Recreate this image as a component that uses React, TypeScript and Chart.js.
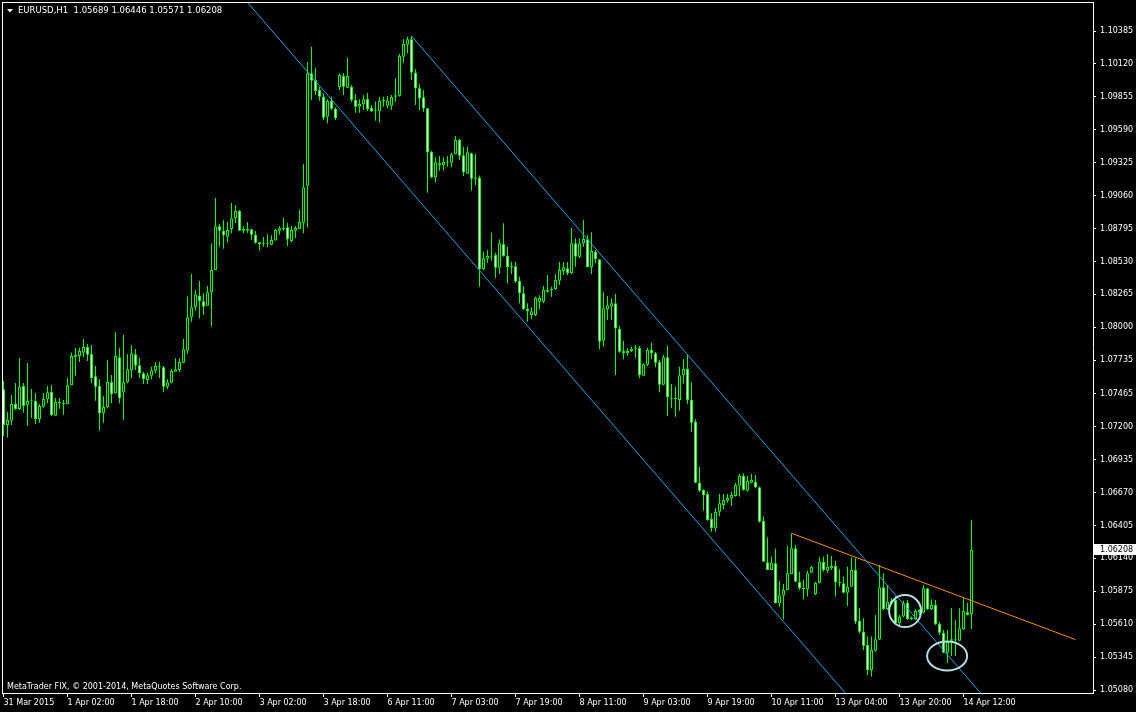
import React, { useEffect, useRef } from 'react';
import { Chart, registerables } from 'chart.js';

Chart.register(...registerables);

const symbolTitle = 'EURUSD,H1  1.05689 1.06446 1.05571 1.06208';
const copyrightText = 'MetaTrader FIX, \u00A9 2001-2014, MetaQuotes Software Corp.';

// Hourly candles, bar 0 = 31 Mar 2015 10:00 ... bar 242 = 14 Apr 2015 14:00
const opens = [
  1.07501, 1.07214, 1.07248, 1.07383, 1.07343, 1.07528, 1.07377, 1.07404, 1.07407, 1.07262,
  1.07361, 1.07421, 1.07479, 1.07289, 1.07391, 1.07393, 1.07380, 1.07533, 1.07764, 1.07769,
  1.07795, 1.07842, 1.07785, 1.07607, 1.07528, 1.07308, 1.07356, 1.07560, 1.07469, 1.07759,
  1.07478, 1.07558, 1.07656, 1.07783, 1.07694, 1.07630, 1.07576, 1.07611, 1.07651, 1.07686,
  1.07678, 1.07522, 1.07554, 1.07643, 1.07656, 1.07715, 1.07811, 1.08081, 1.08161, 1.08254,
  1.08210, 1.08174, 1.08282, 1.08461, 1.08813, 1.08778, 1.08730, 1.08792, 1.08878, 1.08936,
  1.08792, 1.08778, 1.08789, 1.08746, 1.08684, 1.08669, 1.08669, 1.08665, 1.08698, 1.08778,
  1.08792, 1.08805, 1.08695, 1.08778, 1.08792, 1.08842, 1.09140, 1.10045, 1.09991, 1.09911,
  1.09857, 1.09696, 1.09822, 1.09760, 1.09932, 1.10023, 1.09929, 1.09937, 1.09830, 1.09776,
  1.09796, 1.09838, 1.09766, 1.09742, 1.09739, 1.09822, 1.09784, 1.09784, 1.09857, 1.09865,
  1.10179, 1.10275, 1.10319, 1.10050, 1.09924, 1.09852, 1.09763, 1.09412, 1.09207, 1.09320,
  1.09304, 1.09325, 1.09325, 1.09393, 1.09508, 1.09385, 1.09237, 1.09401, 1.09207, 1.09207,
  1.08470, 1.08553, 1.08569, 1.08582, 1.08480, 1.08671, 1.08574, 1.08494, 1.08491, 1.08373,
  1.08274, 1.08150, 1.08099, 1.08099, 1.08206, 1.08206, 1.08302, 1.08300, 1.08308, 1.08375,
  1.08454, 1.08475, 1.08435, 1.08677, 1.08569, 1.08677, 1.08709, 1.08483, 1.08609, 1.08548,
  1.07891, 1.08145, 1.08166, 1.08193, 1.07986, 1.07809, 1.07791, 1.07809, 1.07828, 1.07834,
  1.07611, 1.07699, 1.07817, 1.07791, 1.07721, 1.07538, 1.07759, 1.07431, 1.07423, 1.07415,
  1.07614, 1.07664, 1.07415, 1.07240, 1.06749, 1.06691, 1.06658, 1.06457, 1.06382, 1.06516,
  1.06570, 1.06604, 1.06621, 1.06642, 1.06725, 1.06806, 1.06685, 1.06749, 1.06757, 1.06713,
  1.06443, 1.06109, 1.06046, 1.06100, 1.05778, 1.05840, 1.05883, 1.06014, 1.06221, 1.05952,
  1.05904, 1.05891, 1.06025, 1.05851, 1.05944, 1.06113, 1.06041, 1.06060, 1.06079, 1.05950,
  1.05939, 1.05864, 1.05912, 1.06046, 1.05638, 1.05550, 1.05443, 1.05242, 1.05397, 1.05489,
  1.05907, 1.05730, 1.05778, 1.05805, 1.05617, 1.05671, 1.05783, 1.05664, 1.05652, 1.05708,
  1.05703, 1.05899, 1.05730, 1.05765, 1.05612, 1.05542, 1.05381, 1.05477, 1.05481, 1.05477,
  1.05569, 1.05706, 1.05689,
];
const highs = [
  1.07568, 1.07318, 1.07455, 1.07552, 1.07753, 1.07552, 1.07713, 1.07503, 1.07471, 1.07383,
  1.07471, 1.07528, 1.07536, 1.07431, 1.07431, 1.07415, 1.07592, 1.07795, 1.07834, 1.07836,
  1.07906, 1.07866, 1.07858, 1.07689, 1.07582, 1.07447, 1.07737, 1.07616, 1.07962, 1.07834,
  1.07938, 1.07785, 1.07858, 1.07826, 1.07753, 1.07640, 1.07635, 1.07683, 1.07721, 1.07723,
  1.07689, 1.07582, 1.07662, 1.07751, 1.07751, 1.07906, 1.08247, 1.08429, 1.08303, 1.08373,
  1.08274, 1.08333, 1.08676, 1.09041, 1.08832, 1.08864, 1.08848, 1.09001, 1.08985, 1.08944,
  1.08813, 1.08848, 1.08794, 1.08775, 1.08687, 1.08727, 1.08751, 1.08741, 1.08792, 1.08816,
  1.08880, 1.08842, 1.08816, 1.08816, 1.08944, 1.09315, 1.10136, 1.10259, 1.10090, 1.09937,
  1.09884, 1.09836, 1.09857, 1.09771, 1.10045, 1.10045, 1.10168, 1.09951, 1.09878, 1.09836,
  1.09868, 1.09889, 1.09790, 1.09816, 1.09857, 1.09857, 1.09862, 1.09870, 1.10005, 1.10200,
  1.10319, 1.10340, 1.10348, 1.10077, 1.09959, 1.09911, 1.09766, 1.09419, 1.09369, 1.09379,
  1.09369, 1.09379, 1.09406, 1.09540, 1.09519, 1.09454, 1.09454, 1.09406, 1.09395, 1.09223,
  1.08609, 1.08623, 1.08762, 1.08601, 1.08709, 1.08837, 1.08649, 1.08528, 1.08528, 1.08408,
  1.08333, 1.08193, 1.08161, 1.08247, 1.08258, 1.08333, 1.08421, 1.08327, 1.08429, 1.08526,
  1.08526, 1.08526, 1.08800, 1.08717, 1.08717, 1.08864, 1.08743, 1.08765, 1.08623, 1.08548,
  1.08287, 1.08253, 1.08234, 1.08268, 1.08013, 1.07890, 1.07832, 1.07844, 1.07858, 1.07850,
  1.07710, 1.07836, 1.07876, 1.07801, 1.07737, 1.07777, 1.07850, 1.07544, 1.07522, 1.07683,
  1.07743, 1.07777, 1.07558, 1.07260, 1.06878, 1.06696, 1.06677, 1.06503, 1.06543, 1.06658,
  1.06658, 1.06658, 1.06677, 1.06749, 1.06819, 1.06825, 1.06803, 1.06819, 1.06811, 1.06717,
  1.06476, 1.06310, 1.06154, 1.06218, 1.05958, 1.05934, 1.06242, 1.06342, 1.06248, 1.06033,
  1.05966, 1.06041, 1.06079, 1.05952, 1.06149, 1.06154, 1.06175, 1.06159, 1.06121, 1.06052,
  1.05993, 1.06073, 1.06149, 1.06141, 1.05738, 1.05658, 1.05510, 1.05510, 1.05684, 1.06087,
  1.06020, 1.05926, 1.05819, 1.05837, 1.05684, 1.05799, 1.05805, 1.05671, 1.05730, 1.05730,
  1.05926, 1.05899, 1.05811, 1.05805, 1.05630, 1.05563, 1.05563, 1.05738, 1.05644, 1.05738,
  1.05819, 1.05783, 1.06446,
];
const lows = [
  1.07125, 1.07112, 1.07214, 1.07334, 1.07334, 1.07313, 1.07206, 1.07270, 1.07222, 1.07232,
  1.07353, 1.07388, 1.07286, 1.07289, 1.07345, 1.07297, 1.07380, 1.07533, 1.07611, 1.07721,
  1.07762, 1.07729, 1.07549, 1.07409, 1.07168, 1.07232, 1.07348, 1.07388, 1.07469, 1.07388,
  1.07254, 1.07549, 1.07590, 1.07656, 1.07590, 1.07544, 1.07544, 1.07582, 1.07630, 1.07592,
  1.07478, 1.07503, 1.07549, 1.07643, 1.07643, 1.07710, 1.07785, 1.08045, 1.08134, 1.08070,
  1.08099, 1.08174, 1.08005, 1.08461, 1.08649, 1.08633, 1.08681, 1.08757, 1.08840, 1.08778,
  1.08757, 1.08762, 1.08703, 1.08673, 1.08617, 1.08649, 1.08644, 1.08661, 1.08698, 1.08746,
  1.08778, 1.08655, 1.08687, 1.08719, 1.08792, 1.08757, 1.08805, 1.09830, 1.09870, 1.09824,
  1.09669, 1.09642, 1.09749, 1.09669, 1.09911, 1.09870, 1.09924, 1.09816, 1.09728, 1.09728,
  1.09749, 1.09742, 1.09733, 1.09663, 1.09647, 1.09776, 1.09763, 1.09749, 1.09816, 1.09857,
  1.10130, 1.10206, 1.09991, 1.09790, 1.09749, 1.09735, 1.09084, 1.09201, 1.09165, 1.09261,
  1.09261, 1.09293, 1.09288, 1.09393, 1.09347, 1.09218, 1.09237, 1.09100, 1.09146, 1.08327,
  1.08461, 1.08520, 1.08536, 1.08395, 1.08431, 1.08569, 1.08354, 1.08429, 1.08359, 1.08193,
  1.08140, 1.08045, 1.08065, 1.08092, 1.08145, 1.08193, 1.08279, 1.08247, 1.08300, 1.08341,
  1.08421, 1.08421, 1.08429, 1.08488, 1.08556, 1.08649, 1.08483, 1.08429, 1.08516, 1.07823,
  1.07844, 1.08059, 1.08059, 1.07616, 1.07795, 1.07743, 1.07769, 1.07801, 1.07756, 1.07590,
  1.07611, 1.07689, 1.07743, 1.07678, 1.07478, 1.07533, 1.07286, 1.07348, 1.07281, 1.07329,
  1.07549, 1.07383, 1.07160, 1.06744, 1.06677, 1.06524, 1.06443, 1.06355, 1.06355, 1.06481,
  1.06535, 1.06588, 1.06564, 1.06637, 1.06637, 1.06685, 1.06677, 1.06744, 1.06704, 1.06428,
  1.06113, 1.06046, 1.06046, 1.05778, 1.05751, 1.05650, 1.05883, 1.06014, 1.05952, 1.05886,
  1.05811, 1.05832, 1.06020, 1.05845, 1.05939, 1.06033, 1.06025, 1.06046, 1.05832, 1.05912,
  1.05859, 1.05757, 1.05912, 1.05612, 1.05537, 1.05403, 1.05201, 1.05188, 1.05389, 1.05483,
  1.05725, 1.05725, 1.05765, 1.05612, 1.05604, 1.05666, 1.05644, 1.05644, 1.05644, 1.05684,
  1.05698, 1.05725, 1.05725, 1.05604, 1.05523, 1.05376, 1.05300, 1.05354, 1.05354, 1.05477,
  1.05563, 1.05679, 1.05571,
];
const closes = [
  1.07214, 1.07254, 1.07383, 1.07343, 1.07520, 1.07367, 1.07407, 1.07407, 1.07262, 1.07367,
  1.07423, 1.07477, 1.07294, 1.07399, 1.07399, 1.07383, 1.07533, 1.07769, 1.07777, 1.07809,
  1.07842, 1.07780, 1.07592, 1.07522, 1.07308, 1.07359, 1.07560, 1.07461, 1.07769, 1.07429,
  1.07558, 1.07662, 1.07791, 1.07691, 1.07630, 1.07582, 1.07614, 1.07654, 1.07689, 1.07678,
  1.07522, 1.07558, 1.07648, 1.07662, 1.07721, 1.07823, 1.08081, 1.08161, 1.08266, 1.08210,
  1.08166, 1.08282, 1.08461, 1.08813, 1.08778, 1.08741, 1.08784, 1.08878, 1.08936, 1.08778,
  1.08778, 1.08792, 1.08746, 1.08681, 1.08669, 1.08677, 1.08677, 1.08703, 1.08784, 1.08797,
  1.08797, 1.08709, 1.08784, 1.08800, 1.08848, 1.09127, 1.10045, 1.09985, 1.09902, 1.09857,
  1.09688, 1.09822, 1.09760, 1.09683, 1.10031, 1.09937, 1.10023, 1.09830, 1.09776, 1.09798,
  1.09836, 1.09758, 1.09739, 1.09739, 1.09822, 1.09830, 1.09824, 1.09857, 1.09868, 1.10184,
  1.10281, 1.10319, 1.10050, 1.09924, 1.09843, 1.09762, 1.09409, 1.09207, 1.09329, 1.09304,
  1.09331, 1.09329, 1.09393, 1.09508, 1.09382, 1.09248, 1.09409, 1.09197, 1.09197, 1.08467,
  1.08556, 1.08574, 1.08574, 1.08480, 1.08677, 1.08574, 1.08483, 1.08483, 1.08367, 1.08274,
  1.08145, 1.08129, 1.08129, 1.08239, 1.08236, 1.08302, 1.08287, 1.08308, 1.08381, 1.08461,
  1.08483, 1.08435, 1.08677, 1.08569, 1.08677, 1.08711, 1.08483, 1.08614, 1.08548, 1.07884,
  1.08153, 1.08177, 1.08193, 1.07993, 1.07803, 1.07791, 1.07809, 1.07828, 1.07834, 1.07616,
  1.07702, 1.07817, 1.07791, 1.07715, 1.07538, 1.07759, 1.07437, 1.07425, 1.07429, 1.07614,
  1.07664, 1.07415, 1.07232, 1.06749, 1.06685, 1.06650, 1.06449, 1.06382, 1.06516, 1.06583,
  1.06610, 1.06626, 1.06650, 1.06731, 1.06806, 1.06691, 1.06765, 1.06771, 1.06713, 1.06435,
  1.06113, 1.06046, 1.06105, 1.05778, 1.05843, 1.05886, 1.06020, 1.06221, 1.05952, 1.05899,
  1.05891, 1.06020, 1.06073, 1.05944, 1.06113, 1.06046, 1.06073, 1.06079, 1.05948, 1.05939,
  1.05864, 1.05912, 1.06046, 1.05630, 1.05550, 1.05435, 1.05242, 1.05403, 1.05489, 1.05907,
  1.05730, 1.05791, 1.05797, 1.05617, 1.05671, 1.05778, 1.05650, 1.05652, 1.05719, 1.05725,
  1.05899, 1.05730, 1.05765, 1.05612, 1.05542, 1.05381, 1.05469, 1.05489, 1.05487, 1.05577,
  1.05719, 1.05684, 1.06208,
];

const timeTickIndex = [0, 16, 32, 48, 64, 80, 96, 112, 128, 144, 160, 176, 192, 208, 224, 240];
const timeTickLabels = [
  '31 Mar 2015', '1 Apr 02:00', '1 Apr 18:00', '2 Apr 10:00', '3 Apr 02:00', '3 Apr 18:00',
  '6 Apr 11:00', '7 Apr 03:00', '7 Apr 19:00', '8 Apr 11:00', '9 Apr 03:00', '9 Apr 19:00',
  '10 Apr 11:00', '13 Apr 04:00', '13 Apr 20:00', '14 Apr 12:00',
];
const priceTicks = [
  1.10385, 1.1012, 1.09855, 1.0959, 1.09325, 1.0906, 1.08795, 1.0853, 1.08265, 1.08,
  1.07735, 1.07465, 1.072, 1.06935, 1.0667, 1.06405, 1.0614, 1.05875, 1.0561, 1.05345, 1.0508,
];

// drawn objects (bar index, price)
const lowerChannel = [{ x: 61, y: 1.10615 }, { x: 211, y: 1.05035 }];
const upperChannel = [{ x: 102, y: 1.10345 }, { x: 245, y: 1.05029 }];
const resistanceLine = [{ x: 197, y: 1.06342 }, { x: 268, y: 1.05486 }];
const ellipseCenters = [{ x: 225.4, y: 1.05716 }, { x: 235.9, y: 1.05354 }];
const ellipseRadii = [{ rx: 4, ry: 0.00129 }, { rx: 5, ry: 0.00117 }];

const X_MIN = -0.375;
const X_MAX = 272.375;
const Y_MIN = 1.05056;
const Y_MAX = 1.10611;

const FONT = "'DejaVu Sans', 'Noto Sans', sans-serif";
const LIME = '#00ff00';
const CHANNEL = '#1ea5f0';
const ORANGE = '#ff8c00';
const ELLIPSE = '#b4dde6';

const decorPlugin = {
  id: 'mtDecor',
  beforeDraw(chart: any) {
    const ctx = chart.ctx;
    ctx.save();
    ctx.fillStyle = '#000000';
    ctx.fillRect(0, 0, chart.width, chart.height);
    ctx.restore();
  },
  afterDatasetsDraw(chart: any) {
    const { ctx, chartArea: a } = chart;
    const xs = chart.scales.x;
    const ys = chart.scales.y;
    ctx.save();
    ctx.beginPath();
    ctx.rect(a.left, a.top, a.right - a.left, a.bottom - a.top);
    ctx.clip();
    ctx.strokeStyle = ELLIPSE;
    ctx.lineWidth = 2;
    ellipseCenters.forEach((c, i) => {
      const cx = xs.getPixelForValue(c.x);
      const cy = ys.getPixelForValue(c.y);
      const rx = Math.abs(xs.getPixelForValue(c.x + ellipseRadii[i].rx) - cx);
      const ry = Math.abs(ys.getPixelForValue(c.y + ellipseRadii[i].ry) - cy);
      ctx.beginPath();
      ctx.ellipse(cx, cy, rx, ry, 0, 0, Math.PI * 2);
      ctx.stroke();
    });
    ctx.restore();
  },
  afterDraw(chart: any) {
    const { ctx, chartArea: a } = chart;
    const ys = chart.scales.y;
    ctx.save();
    ctx.fillStyle = '#ffffff';
    // left and top frame
    ctx.fillRect(a.left, a.top - 1, 1, a.bottom - a.top + 2);
    ctx.fillRect(a.left, a.top - 1, a.right - a.left + 1, 1);
    // menu triangle
    ctx.beginPath();
    ctx.moveTo(7, 9);
    ctx.lineTo(13, 9);
    ctx.lineTo(10, 12.5);
    ctx.closePath();
    ctx.fill();
    // current price label
    const last = closes[closes.length - 1];
    const py = ys.getPixelForValue(last);
    ctx.fillStyle = '#ffffff';
    ctx.fillRect(a.right + 1, Math.round(py) - 6, chart.width - a.right - 1, 11);
    ctx.fillStyle = '#000000';
    ctx.font = `8px ${FONT}`;
    ctx.textBaseline = 'middle';
    ctx.textAlign = 'left';
    ctx.fillText(last.toFixed(5), a.right + 7, py);
    ctx.restore();
  },
};

export default function App() {
  const canvasRef = useRef<HTMLCanvasElement | null>(null);

  useEffect(() => {
    document.body.style.margin = '0';
    document.body.style.background = '#000';
    const canvas = canvasRef.current;
    if (!canvas) return;

    const idx = opens.map((_, i) => i);
    const bodyData = idx.map((i) => ({ x: i, y: [opens[i], closes[i]] }));
    const wickData = idx.map((i) => ({ x: i, y: [lows[i], highs[i]] }));
    const bodyFill = idx.map((i) => (closes[i] >= opens[i] ? '#000000' : '#ffffff'));

    const chart = new Chart(canvas, {
      type: 'bar',
      data: {
        datasets: [
          {
            type: 'line',
            data: lowerChannel,
            borderColor: CHANNEL,
            borderWidth: 1,
            pointRadius: 0,
            fill: false,
            tension: 0,
            order: 0,
          } as any,
          {
            type: 'line',
            data: upperChannel,
            borderColor: CHANNEL,
            borderWidth: 1,
            pointRadius: 0,
            fill: false,
            tension: 0,
            order: 0,
          } as any,
          {
            type: 'line',
            data: resistanceLine,
            borderColor: ORANGE,
            borderWidth: 1,
            pointRadius: 0,
            fill: false,
            tension: 0,
            order: 0,
          } as any,
          {
            type: 'bar',
            data: bodyData,
            backgroundColor: bodyFill,
            borderColor: LIME,
            borderWidth: 1,
            borderSkipped: false,
            barThickness: 3,
            minBarLength: 1,
            grouped: false,
            inflateAmount: 0,
            order: 1,
          } as any,
          {
            type: 'bar',
            data: wickData,
            backgroundColor: LIME,
            borderWidth: 0,
            barThickness: 1,
            minBarLength: 1,
            grouped: false,
            inflateAmount: 0,
            order: 2,
          } as any,
        ],
      },
      options: {
        animation: false,
        responsive: false,
        maintainAspectRatio: false,
        events: [],
        layout: { padding: { left: 2, top: 3, right: 0, bottom: 0 } },
        plugins: {
          legend: { display: false },
          tooltip: { enabled: false },
          title: { display: false },
        },
        scales: {
          x: {
            type: 'linear',
            position: 'bottom',
            min: X_MIN,
            max: X_MAX,
            offset: false,
            bounds: 'data',
            grid: {
              display: true,
              offset: false,
              drawOnChartArea: false,
              drawTicks: true,
              tickLength: 4,
              color: '#ffffff',
              lineWidth: 1,
            },
            border: { display: true, color: '#ffffff', width: 1 },
            ticks: {
              autoSkip: false,
              maxRotation: 0,
              minRotation: 0,
              align: 'start',
              padding: 1,
              color: '#ffffff',
              font: { family: FONT, size: 8 },
              callback: (v: any) => {
                const k = timeTickIndex.indexOf(Number(v));
                return k >= 0 ? timeTickLabels[k] : '';
              },
            },
            afterBuildTicks: (s: any) => {
              s.ticks = timeTickIndex.map((v) => ({ value: v }));
            },
            afterFit: (s: any) => {
              s.height = 19;
              s.paddingLeft = 0;
              s.paddingRight = 0;
            },
          } as any,
          y: {
            type: 'linear',
            position: 'right',
            min: Y_MIN,
            max: Y_MAX,
            beginAtZero: false,
            bounds: 'data',
            grid: {
              display: true,
              drawOnChartArea: false,
              drawTicks: true,
              tickLength: 3,
              color: '#ffffff',
              lineWidth: 1,
            },
            border: { display: true, color: '#ffffff', width: 1 },
            ticks: {
              autoSkip: false,
              padding: 4,
              color: '#ffffff',
              font: { family: FONT, size: 8 },
              callback: (v: any) => Number(v).toFixed(5),
            },
            afterBuildTicks: (s: any) => {
              s.ticks = priceTicks.map((v) => ({ value: v }));
            },
            afterFit: (s: any) => {
              s.width = 43;
              s.paddingTop = 0;
              s.paddingBottom = 0;
            },
          } as any,
        },
      } as any,
      plugins: [decorPlugin],
    });

    return () => chart.destroy();
  }, []);

  const textStyle: React.CSSProperties = {
    position: 'absolute',
    color: '#ffffff',
    fontFamily: FONT,
    whiteSpace: 'pre',
    lineHeight: '11px',
    pointerEvents: 'none',
  };

  return (
    <div style={{ position: 'relative', width: 1136, height: 712, background: '#000', overflow: 'hidden' }}>
      <canvas ref={canvasRef} width={1136} height={712} style={{ display: 'block' }} />
      <div style={{ ...textStyle, left: 18, top: 5, fontSize: '8.5px' }}>{symbolTitle}</div>
      <div style={{ ...textStyle, left: 7, top: 681, fontSize: '8px' }}>{copyrightText}</div>
    </div>
  );
}
